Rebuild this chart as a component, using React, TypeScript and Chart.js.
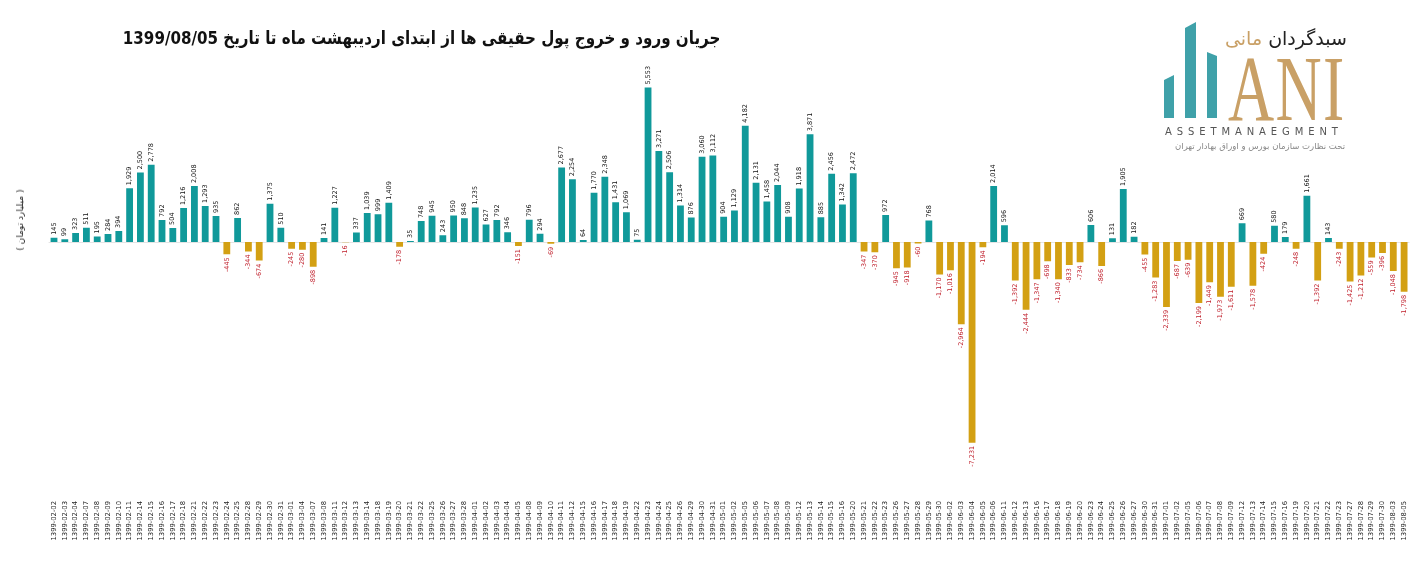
import React, { useEffect, useRef } from "react";
import { Chart, registerables } from "chart.js";

Chart.register(...registerables);

const dateLabels: string[] = [
  "1399-02-02", "1399-02-03", "1399-02-04", "1399-02-07", "1399-02-08", "1399-02-09", "1399-02-10", "1399-02-11",
  "1399-02-14", "1399-02-15", "1399-02-16", "1399-02-17", "1399-02-18", "1399-02-21", "1399-02-22", "1399-02-23",
  "1399-02-24", "1399-02-25", "1399-02-28", "1399-02-29", "1399-02-30", "1399-02-31",
  "1399-03-01", "1399-03-04", "1399-03-07", "1399-03-08", "1399-03-11", "1399-03-12", "1399-03-13", "1399-03-14",
  "1399-03-18", "1399-03-19", "1399-03-20", "1399-03-21", "1399-03-22", "1399-03-25", "1399-03-26", "1399-03-27",
  "1399-03-28", "1399-04-01", "1399-04-02", "1399-04-03", "1399-04-04", "1399-04-05", "1399-04-08", "1399-04-09",
  "1399-04-10",
  "1399-04-11", "1399-04-12", "1399-04-15", "1399-04-16", "1399-04-17", "1399-04-18", "1399-04-19", "1399-04-22",
  "1399-04-23", "1399-04-24", "1399-04-25", "1399-04-26", "1399-04-29", "1399-04-30", "1399-04-31", "1399-05-01",
  "1399-05-02", "1399-05-05", "1399-05-06", "1399-05-07", "1399-05-08", "1399-05-09", "1399-05-12", "1399-05-13",
  "1399-05-14", "1399-05-15", "1399-05-16",
  "1399-05-20", "1399-05-21", "1399-05-22", "1399-05-23", "1399-05-26", "1399-05-27", "1399-05-28", "1399-05-29",
  "1399-05-30", "1399-06-02", "1399-06-03", "1399-06-04", "1399-06-05", "1399-06-06", "1399-06-11", "1399-06-12",
  "1399-06-13", "1399-06-16", "1399-06-17", "1399-06-18", "1399-06-19", "1399-06-20", "1399-06-23", "1399-06-24",
  "1399-06-25", "1399-06-26",
  "1399-06-27", "1399-06-30", "1399-06-31", "1399-07-01", "1399-07-02", "1399-07-05", "1399-07-06", "1399-07-07",
  "1399-07-08", "1399-07-09", "1399-07-12", "1399-07-13", "1399-07-14", "1399-07-15", "1399-07-16", "1399-07-19",
  "1399-07-20", "1399-07-21", "1399-07-22", "1399-07-23", "1399-07-27", "1399-07-28", "1399-07-29", "1399-07-30",
  "1399-08-03", "1399-08-05",
];

const netFlow: number[] = [
  145, 99, 323, 511, 195, 284, 394, 1929, 2500, 2778, 792, 504, 1216, 2008, 1293, 935, -445, 862, -344, -674, 1375, 510,
  -245, -280, -898, 141, 1227, -16, 337, 1039, 999, 1409, -178, 35, 748, 945, 243, 950, 848, 1235, 627, 792, 346, -151,
  796, 294, -69,
  2677, 2254, 64, 1770, 2348, 1431, 1069, 75, 5553, 3271, 2506, 1314, 876, 3060, 3112, 904, 1129, 4182, 2131, 1458, 2044,
  908, 1918, 3871, 885, 2456, 1342,
  2472, -347, -370, 972, -945, -918, -60, 768, -1170, -1016, -2964, -7231, -194, 2014, 596, -1392, -2444, -1347, -698,
  -1340, -833, -734, 606, -866, 131, 1905,
  182, -455, -1283, -2339, -687, -639, -2199, -1449, -1973, -1611, 669, -1578, -424, 580, 179, -248, 1661, -1392, 143,
  -243, -1425, -1212, -559, -396, -1048, -1798,
];

const titleText = "جریان ورود و خروج پول حقیقی ها از ابتدای اردیبهشت ماه تا تاریخ 1399/08/05";
const yAxisTitle = "( میلیارد تومان )";

const POS_COLOR = "#10999a";
const NEG_COLOR = "#d3a013";
const POS_LABEL = "#111111";
const NEG_LABEL = "#c0202c";

const valueLabelPlugin = {
  id: "valueLabels",
  beforeDatasetsDraw(chart: any) {
    const { ctx, chartArea } = chart;
    const y = chart.scales.y;
    const z = Math.round(y.getPixelForValue(0)) + 0.5;
    ctx.save();
    ctx.strokeStyle = "#e4e4e4";
    ctx.lineWidth = 1;
    ctx.beginPath();
    ctx.moveTo(chartArea.left, z);
    ctx.lineTo(chartArea.right, z);
    ctx.stroke();
    ctx.restore();
  },
  afterDatasetsDraw(chart: any) {
    const { ctx } = chart;
    const meta = chart.getDatasetMeta(0);
    const values = chart.data.datasets[0].data as number[];
    ctx.save();
    ctx.font = "6.5px 'DejaVu Sans'";
    ctx.textBaseline = "middle";
    meta.data.forEach((bar: any, i: number) => {
      const v = values[i];
      const txt = v.toLocaleString("en-US");
      ctx.save();
      if (v >= 0) {
        ctx.translate(bar.x, bar.y - 3);
        ctx.rotate(-Math.PI / 2);
        ctx.textAlign = "left";
        ctx.fillStyle = POS_LABEL;
      } else {
        ctx.translate(bar.x, bar.y + 3);
        ctx.rotate(-Math.PI / 2);
        ctx.textAlign = "right";
        ctx.fillStyle = NEG_LABEL;
      }
      ctx.fillText(txt, 0, 0);
      ctx.restore();
    });
    ctx.restore();
  },
};

export default function App() {
  const canvasRef = useRef<HTMLCanvasElement | null>(null);

  useEffect(() => {
    if (!canvasRef.current) return;
    const chart = new Chart(canvasRef.current, {
      type: "bar",
      data: {
        labels: dateLabels,
        datasets: [
          {
            data: netFlow,
            backgroundColor: netFlow.map((v) => (v >= 0 ? POS_COLOR : NEG_COLOR)),
            borderWidth: 0,
            barPercentage: 0.63,
            categoryPercentage: 1,
          },
        ],
      },
      options: {
        animation: false,
        responsive: true,
        maintainAspectRatio: false,
        layout: { padding: { left: 48.6, right: 5.5, top: 69.6, bottom: 0 } },
        plugins: {
          legend: { display: false },
          tooltip: { enabled: false },
          title: { display: false },
        },
        scales: {
          x: {
            grid: { display: false },
            border: { display: false },
            ticks: {
              autoSkip: false,
              minRotation: 90,
              maxRotation: 90,
              padding: 1,
              color: "#222222",
              font: { family: "DejaVu Sans", size: 6.8 },
            },
            afterFit: (s: any) => {
              s.height = 84;
            },
          },
          y: {
            min: -9000,
            max: 6200,
            grid: { display: false },
            border: { display: false },
            ticks: { display: false },
            afterFit: (s: any) => {
              s.width = 0;
            },
          },
        },
      },
      plugins: [valueLabelPlugin],
    });
    return () => chart.destroy();
  }, []);

  const bar = (left: number, width: number, topL: number, topR: number, color: string) => {
    const bottom = 118;
    const h = bottom - Math.min(topL, topR);
    const top = Math.min(topL, topR);
    const pl = ((topL - top) / h) * 100;
    const pr = ((topR - top) / h) * 100;
    return (
      <div
        style={{
          position: "absolute",
          left,
          top,
          width,
          height: h,
          background: color,
          clipPath: `polygon(0% ${pl}%, 100% ${pr}%, 100% 100%, 0% 100%)`,
        }}
      />
    );
  };

  return (
    <div
      style={{
        position: "fixed",
        left: 0,
        top: 0,
        width: 1415,
        height: 576,
        background: "#ffffff",
        overflow: "hidden",
      }}
    >
      <div style={{ position: "absolute", left: 0, top: 0, width: 1415, height: 576 }}>
        <canvas ref={canvasRef} />
      </div>

      <div
        dir="rtl"
        style={{
          position: "absolute",
          right: 1415 - 720,
          top: 25,
          fontFamily: "'DejaVu Sans'",
          fontWeight: "bold",
          fontSize: 18,
          lineHeight: "26px",
          color: "#111",
          whiteSpace: "nowrap",
          transform: "scaleX(0.84)",
          transformOrigin: "right center",
        }}
      >
        {titleText}
      </div>

      <div
        dir="rtl"
        style={{
          position: "absolute",
          left: 20,
          top: 220,
          transform: "translate(-50%, -50%) rotate(-90deg)",
          fontFamily: "'DejaVu Sans'",
          fontSize: 9,
          color: "#222",
          whiteSpace: "nowrap",
        }}
      >
        {yAxisTitle}
      </div>

      {/* logo */}
      {bar(1164, 10, 80, 75, "#3fa1a9")}
      {bar(1185, 11, 28, 22, "#3fa1a9")}
      {bar(1207, 10, 52, 56, "#3fa1a9")}
      <div
        style={{
          position: "absolute",
          left: 1228,
          top: 41,
          fontFamily: "'Liberation Serif'",
          fontSize: 94,
          lineHeight: 1,
          color: "#c9a066",
          whiteSpace: "nowrap",
          transform: "scaleX(0.68)",
          transformOrigin: "left top",
          letterSpacing: 2,
        }}
      >
        ANI
      </div>
      <div
        dir="rtl"
        style={{
          position: "absolute",
          right: 1415 - 1347,
          top: 25,
          fontFamily: "'DejaVu Sans'",
          fontSize: 19,
          lineHeight: "26px",
          whiteSpace: "nowrap",
        }}
      >
        <span style={{ color: "#222" }}>سبدگردان</span> <span style={{ color: "#c9a066" }}>مانی</span>
      </div>
      <div
        style={{
          position: "absolute",
          left: 1165,
          top: 125,
          fontFamily: "'DejaVu Sans'",
          fontSize: 10,
          lineHeight: "14px",
          color: "#555",
          letterSpacing: 4.9,
          whiteSpace: "nowrap",
        }}
      >
        ASSETMANAEGMENT
      </div>
      <div
        dir="rtl"
        style={{
          position: "absolute",
          right: 1415 - 1345,
          top: 140,
          fontFamily: "'DejaVu Sans'",
          fontSize: 8.5,
          lineHeight: "12px",
          color: "#888",
          whiteSpace: "nowrap",
        }}
      >
        تحت نظارت سازمان بورس و اوراق بهادار تهران
      </div>
    </div>
  );
}
